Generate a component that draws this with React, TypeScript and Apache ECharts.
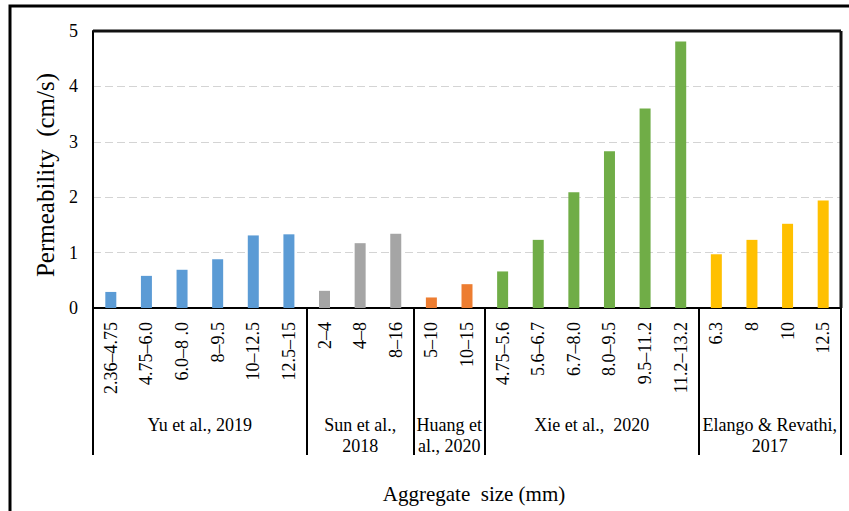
import React, { useEffect, useRef } from "react";
import * as echarts from "echarts";

const yuCats = ["2.36–4.75", "4.75–6.0", "6.0–8 .0", "8–9.5", "10–12.5", "12.5–15"];
const yuVals = [0.29, 0.58, 0.69, 0.88, 1.31, 1.33];
const sunCats = ["2–4", "4–8", "8–16"];
const sunVals = [0.31, 1.17, 1.34];
const huangCats = ["5–10", "10–15"];
const huangVals = [0.19, 0.43];
const xieCats = ["4.75–5.6", "5.6–6.7", "6.7–8.0", "8.0–9.5", "9.5–11.2", "11.2–13.2"];
const xieVals = [0.66, 1.23, 2.09, 2.83, 3.6, 4.81];
const elangoCats = ["6.3", "8", "10", "12.5"];
const elangoVals = [0.97, 1.23, 1.52, 1.94];

const groupNames = [
  "Yu et al., 2019",
  "Sun et al.,\n2018",
  "Huang et\nal., 2020",
  "Xie et al.,  2020",
  "Elango & Revathi,\n2017",
];
const groupColors = ["#5B9BD5", "#A5A5A5", "#ED7D31", "#70AD47", "#FFC000"];
const yTicks = [0, 1, 2, 3, 4, 5];

const FONT = "Liberation Serif";
const W = 849;
const H = 511;
const G = { left: 93, top: 31, right: 8, bottom: 203 };

export default function App() {
  const ref = useRef<HTMLDivElement>(null);
  useEffect(() => {
    if (!ref.current) return;
    const chart = echarts.init(ref.current, null, { renderer: "svg" });
    const groupsCats = [yuCats, sunCats, huangCats, xieCats, elangoCats];
    const groupsVals = [yuVals, sunVals, huangVals, xieVals, elangoVals];
    const categories: string[] = [];
    const data: any[] = [];
    const boundaries: number[] = [0];
    const centers: number[] = [];
    let idx = 0;
    groupsCats.forEach((cats, g) => {
      const start = idx;
      cats.forEach((c, i) => {
        categories.push(c);
        data.push({ value: groupsVals[g][i], itemStyle: { color: groupColors[g] } });
        idx++;
      });
      boundaries.push(idx);
      centers.push((start + idx) / 2);
    });

    const mkLine = (color: string) => ({ show: true, onZero: false, lineStyle: { color, width: 2 } });
    const x0 = G.left;
    const x1 = W - G.right;
    const y0 = G.top;
    const y1 = H - G.bottom;

    chart.setOption({
      animation: false,
      grid: { left: G.left, top: G.top, right: G.right, bottom: G.bottom },
      xAxis: [
        {
          type: "category",
          data: categories,
          position: "bottom",
          axisLine: mkLine("#000"),
          axisTick: { show: false },
          axisLabel: {
            interval: 0,
            rotate: 90,
            margin: 14,
            color: "#000",
            fontFamily: FONT,
            fontSize: 18,
          },
        },
        {
          type: "value",
          min: 0,
          max: categories.length,
          position: "bottom",
          axisLine: { show: false, onZero: false },
          splitLine: { show: false },
          axisTick: {
            show: true,
            inside: false,
            length: 147,
            customValues: boundaries,
            lineStyle: { color: "#000", width: 2 },
          },
          axisLabel: {
            show: true,
            customValues: centers,
            margin: 106,
            color: "#000",
            fontFamily: FONT,
            fontSize: 18,
            lineHeight: 21,
            align: "center",
            formatter: (v: number) => {
              const k = centers.findIndex((c) => Math.abs(c - v) < 1e-6);
              return k >= 0 ? groupNames[k] : "";
            },
          },
        },
      ],
      yAxis: [
        {
          type: "value",
          position: "left",
          min: yTicks[0],
          max: yTicks[yTicks.length - 1],
          interval: 1,
          axisLine: mkLine("#000"),
          axisTick: { show: false },
          axisLabel: { color: "#000", fontFamily: FONT, fontSize: 18, margin: 15 },
          splitLine: { show: true, lineStyle: { color: "#d4d4d4", type: [8, 4], width: 1 } },
        },
      ],
      series: [
        {
          type: "bar",
          xAxisIndex: 0,
          yAxisIndex: 0,
          data,
          barWidth: 11,
        },
      ],
      graphic: [
        {
          type: "rect",
          shape: { x: 10, y: 6, width: 900, height: 600 },
          style: { fill: "none", stroke: "#000", lineWidth: 3 },
          silent: true,
        },
        {
          type: "line",
          shape: { x1: x0, y1: y0, x2: x1, y2: y0 },
          style: { stroke: "#111", lineWidth: 3 },
          silent: true,
          z: 100,
        },
        {
          type: "line",
          shape: { x1: x1, y1: y0, x2: x1, y2: y1 },
          style: { stroke: "#111", lineWidth: 3 },
          silent: true,
          z: 100,
        },
        {
          type: "text",
          x: 45,
          y: 175,
          rotation: Math.PI / 2,
          style: {
            text: "Permeability  (cm/s)",
            font: `25px ${FONT}`,
            fill: "#000",
            align: "center",
            verticalAlign: "middle",
          },
        },
        {
          type: "text",
          x: 474,
          y: 494,
          style: {
            text: "Aggregate  size (mm)",
            font: `21px ${FONT}`,
            fill: "#000",
            align: "center",
            verticalAlign: "middle",
          },
        },
      ],
    });
    return () => chart.dispose();
  }, []);
  return (
    <div
      ref={ref}
      style={{ position: "absolute", left: 0, top: 0, width: W, height: H }}
    />
  );
}
